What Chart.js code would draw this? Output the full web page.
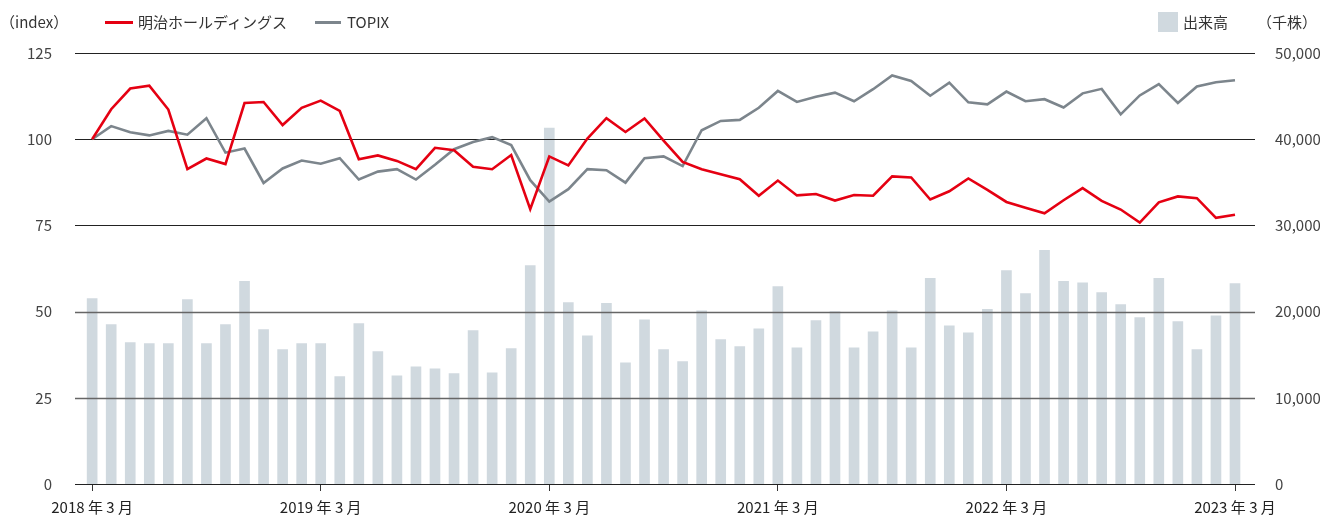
<!DOCTYPE html>
<html lang="ja">
<head>
<meta charset="utf-8">
<script src="https://cdn.jsdelivr.net/npm/chart.js@4"></script>
<style>
  body { margin: 0; background: #fff; font-family: "Noto Sans CJK JP", "Noto Sans", sans-serif; color: #333; }
  #wrap { position: relative; width: 1320px; height: 519px; }
  .hd { position: absolute; top: 12px; font-size: 15px; line-height: 20px; white-space: nowrap; }
  .swatch { position: absolute; top: 21px; height: 3px; }
  .box { position: absolute; top: 12px; width: 20px; height: 20px; background: #d0d9df; }
</style>
</head>
<body>
<div id="wrap">
  <canvas id="chart"></canvas>
  <div class="hd" style="left:0px">（index）</div>
  <div class="swatch" style="left:105px;width:28px;background:#e50012"></div>
  <div class="hd" style="left:138px">明治ホールディングス</div>
  <div class="swatch" style="left:315px;width:26px;background:#7c858c"></div>
  <div class="hd" style="left:347px">TOPIX</div>
  <div class="box" style="left:1158px"></div>
  <div class="hd" style="left:1183px">出来高</div>
  <div class="hd" style="left:1257px">（千株）</div>
</div>
<script>
// monthly, 2018/3 .. 2023/3 (61 months), index = months since 2018/3
const tickIndex = [0, 12, 24, 36, 48, 60];
const tickLabels = ['2018 年 3 月', '2019 年 3 月', '2020 年 3 月', '2021 年 3 月', '2022 年 3 月', '2023 年 3 月'];

// 明治ホールディングス share price index (2018/3 = 100)
const meiji = [
  100, 108.7, 114.7, 115.5, 108.6, 91.3, 94.4, 92.8, 110.5, 110.8, 104.1, 109.1,
  111.2, 108.2, 94.2, 95.3, 93.7, 91.3, 97.5, 96.8, 92.0, 91.3, 95.4, 79.7,
  95.0, 92.4, 100.2, 106.1, 102.1, 106.0, 99.6, 93.4, 91.3, 89.8, 88.4, 83.6,
  88.0, 83.7, 84.1, 82.2, 83.8, 83.6, 89.2, 88.9, 82.5, 84.9, 88.6, 85.3,
  81.8, 80.1, 78.5, 82.3, 85.8, 82.1, 79.6, 75.8, 81.7, 83.4, 82.9, 77.2,
  78.1
];

// TOPIX index (2018/3 = 100)
const topix = [
  100, 103.8, 102.0, 101.1, 102.4, 101.3, 106.1, 96.1, 97.3, 87.3, 91.5, 93.8,
  92.9, 94.5, 88.3, 90.6, 91.3, 88.3, 92.6, 97.1, 99.2, 100.6, 98.3, 88.1,
  81.9, 85.5, 91.3, 91.0, 87.4, 94.5, 95.0, 92.2, 102.6, 105.3, 105.6, 109.1,
  114.0, 110.8, 112.3, 113.5, 111.0, 114.5, 118.5, 116.9, 112.6, 116.4, 110.7, 110.1,
  113.8, 111.0, 111.6, 109.2, 113.3, 114.6, 107.2, 112.7, 116.0, 110.5, 115.3, 116.5,
  117.1
];

// 出来高 (千株)
const volume = [
  21500, 18500, 16400, 16300, 16300, 21400, 16300, 18500, 23500, 17900, 15600, 16300,
  16300, 12450, 18600, 15350, 12550, 13600, 13350, 12800, 17800, 12900, 15700, 25350,
  41300, 21050, 17200, 20950, 14050, 19050, 15600, 14200, 20100, 16750, 15950, 18000,
  22900, 15800, 18950, 20000, 15800, 17650, 20100, 15800, 23850, 18350, 17550, 20250,
  24750, 22100, 27100, 23500, 23350, 22200, 20800, 19300, 23850, 18850, 15600, 19500,
  23250
];

const pts = arr => arr.map((v, i) => ({ x: i, y: v }));

// horizontal rules drawn over the bars but under the lines
const gridOverBars = {
  id: 'gridOverBars',
  afterDatasetDraw(chart, args) {
    if (args.index !== 0) return;
    const { ctx, chartArea } = chart;
    const y = chart.scales.y;
    ctx.save();
    y.ticks.forEach(t => {
      const py = Math.round(y.getPixelForValue(t.value)) + 0.5;
      const soft = t.value === 25 || t.value === 50;
      ctx.strokeStyle = soft ? '#666' : '#222';
      ctx.lineWidth = soft ? 1.6 : 1;
      ctx.beginPath();
      ctx.moveTo(chartArea.left, py);
      ctx.lineTo(chartArea.right, py);
      ctx.stroke();
    });
    ctx.restore();
  }
};

Chart.defaults.font.family = '"Noto Sans CJK JP", "Noto Sans", sans-serif';
Chart.defaults.color = '#444';

new Chart(document.getElementById('chart'), {
  type: 'bar',
  data: {
    datasets: [
      {
        type: 'bar', label: '出来高', data: pts(volume), yAxisID: 'y2',
        backgroundColor: '#d0d9df', barThickness: 10, order: 3
      },
      {
        type: 'line', label: '明治ホールディングス', data: pts(meiji), yAxisID: 'y',
        borderColor: '#e50012', borderWidth: 2.6, pointRadius: 0, tension: 0, order: 1
      },
      {
        type: 'line', label: 'TOPIX', data: pts(topix), yAxisID: 'y',
        borderColor: '#7c858c', borderWidth: 2.6, pointRadius: 0, tension: 0, order: 2
      }
    ]
  },
  options: {
    responsive: true,
    maintainAspectRatio: false,
    animation: false,
    layout: { padding: { top: 53, left: 0, right: 0, bottom: 0 } },
    plugins: { legend: { display: false }, tooltip: { enabled: false } },
    scales: {
      x: {
        type: 'linear',
        offset: false,
        min: -0.9,
        max: 61.05,
        afterBuildTicks: s => { s.ticks = tickIndex.map(v => ({ value: v })); },
        afterFit: s => { s.height = 35; },
        grid: { offset: false, drawOnChartArea: false, drawTicks: true, tickLength: 7, color: '#333' },
        border: { display: false },
        ticks: {
          autoSkip: false, maxRotation: 0, padding: 7,
          font: { size: 15 }, color: '#222',
          callback: v => tickLabels[tickIndex.indexOf(v)]
        }
      },
      y: {
        position: 'left',
        min: 0, max: 125,
        afterBuildTicks: s => { s.ticks = [0, 25, 50, 75, 100, 125].map(v => ({ value: v })); },
        afterFit: s => { s.width = 75; },
        grid: { display: false },
        border: { display: false },
        ticks: { padding: 15, font: { size: 15 } }
      },
      y2: {
        position: 'right',
        min: 0, max: 50000,
        afterBuildTicks: s => { s.ticks = [0, 10000, 20000, 30000, 40000, 50000].map(v => ({ value: v })); },
        afterFit: s => { s.width = 65; },
        grid: { display: false },
        border: { display: false },
        ticks: { padding: 12, font: { size: 15 }, callback: v => v.toLocaleString('en-US') }
      }
    }
  },
  plugins: [gridOverBars]
});
</script>
</body>
</html>
